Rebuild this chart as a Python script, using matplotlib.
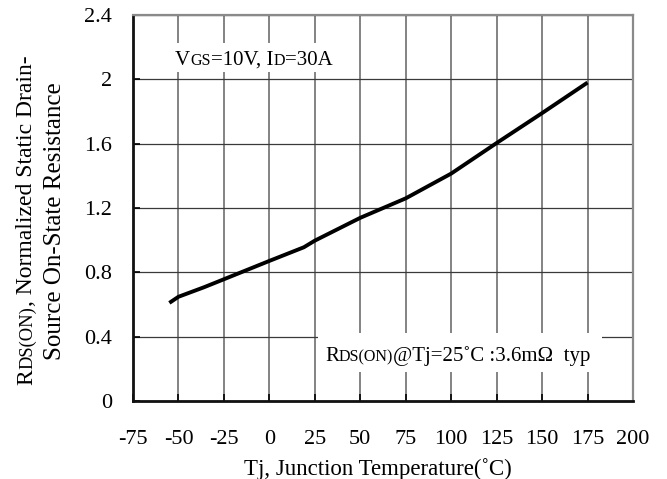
import matplotlib
matplotlib.use("Agg")
import matplotlib.pyplot as plt
from matplotlib.patches import Rectangle
from matplotlib.transforms import IdentityTransform

# ---- data ----
temp_c = [-55, -50, -36, -25, 0, 19, 25, 50, 75, 100, 125, 150, 175]
r_norm = [0.61, 0.648, 0.707, 0.757, 0.871, 0.956, 0.997, 1.139, 1.26, 1.414, 1.604, 1.79, 1.98]
x_ticks = [-75, -50, -25, 0, 25, 50, 75, 100, 125, 150, 175, 200]
y_ticks = [0, 0.4, 0.8, 1.2, 1.6, 2.0, 2.4]
y_tick_labels = ["0", "0.4", "0.8", "1.2", "1.6", "2", "2.4"]

FAM = ["Liberation Serif", "DejaVu Serif"]
W, H = 667, 479
fig = plt.figure(figsize=(W / 100, H / 100), dpi=100)
L, R, T, B = 133, 633, 15, 401
ax = fig.add_axes([L / W, 1 - B / H, (R - L) / W, (B - T) / H])

ax.set_xlim(-75, 200)
ax.set_ylim(0, 2.4)
ax.set_xticks(x_ticks)
ax.set_xticklabels([str(v) for v in x_ticks])
ax.set_yticks(y_ticks)
ax.set_yticklabels(y_tick_labels)
for lab in ax.get_xticklabels() + ax.get_yticklabels():
    lab.set_family(FAM)
    lab.set_fontsize(16)
ax.tick_params(axis="both", direction="in", length=5, width=1.2, color="black")
ax.tick_params(axis="x", pad=21)
ax.tick_params(axis="y", pad=15)

ax.set_axisbelow(True)
ax.xaxis.grid(True, color="#7a7a7a", lw=1.3)
ax.yaxis.grid(True, color="#3a3a3a", lw=0.9)

for s in ("left", "bottom"):
    ax.spines[s].set_color("#111111")
    ax.spines[s].set_linewidth(2.0)
for s in ("top", "right"):
    ax.spines[s].set_color("#8a8a8a")
    ax.spines[s].set_linewidth(1.6)


def px_rect(x0, y0, x1, y1):
    return Rectangle(((x0 - L) / (R - L), (B - y1) / (B - T)),
                     (x1 - x0) / (R - L), (y1 - y0) / (B - T),
                     transform=ax.transAxes, facecolor="white", edgecolor="none", zorder=1.5)


ax.add_patch(px_rect(170, 43, 340, 72))
ax.add_patch(px_rect(318, 333, 602, 372))

ax.plot(temp_c, r_norm, color="black", lw=2.8, solid_capstyle="butt", zorder=3)

fig.canvas.draw()
renderer = fig.canvas.get_renderer()


def rich(x, y, pieces, rotation=0, center=False):
    arts = []
    total = 0.0
    for s, size in pieces:
        t = fig.text(0, 0, s, fontsize=size, family=FAM, rotation=rotation,
                     rotation_mode="anchor", ha="left", va="baseline",
                     transform=IdentityTransform())
        bb = t.get_window_extent(renderer)
        w = bb.height if rotation == 90 else bb.width
        arts.append((t, w))
        total += w
    yd = H - y
    if center:
        if rotation == 90:
            yd -= total / 2
        else:
            x -= total / 2
    pos = 0.0
    for t, w in arts:
        if rotation == 90:
            t.set_position((x, yd + pos))
        else:
            t.set_position((x + pos, yd))
        pos += w


BIG, SMALL = 15, 11.5
rich(175, 65, [("V", BIG), ("GS", SMALL), ("=10V, I", BIG), ("D", SMALL), ("=30A", BIG)])
rich(325, 361, [("R", BIG), ("DS(ON)", SMALL), ("@Tj=25˚C :3.6mΩ  typ", BIG)])

rich(32, 220, [("R", 17), ("DS(ON)", 13.3), (", Normalized Static Drain-", 17)], rotation=90, center=True)
rich(61, 221, [("Source On-State Resistance", 18)], rotation=90, center=True)
rich(378, 475, [("Tj, Junction Temperature(˚C)", 16.5)], center=True)

fig.savefig("out.png", dpi=100)
